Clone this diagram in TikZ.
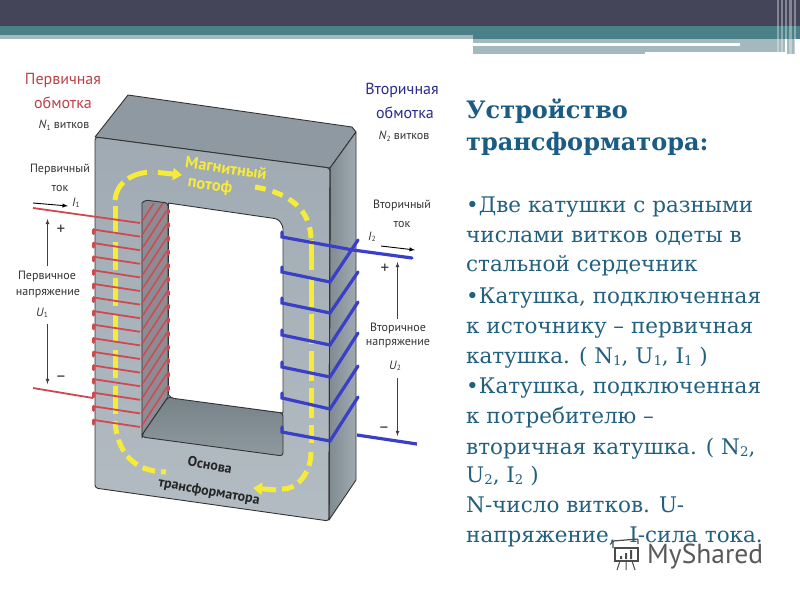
\documentclass[tikz,border=0pt]{standalone}
\usepackage{fontspec}
\usetikzlibrary{arrows.meta}
\setmainfont{DejaVu Serif}
\newfontfamily\lab{PT Sans}
\definecolor{txtblue}{HTML}{22607F}
\definecolor{headc}{HTML}{1A5C84}
\definecolor{redc}{HTML}{CF4A50}
\definecolor{bluec}{HTML}{3A3FC8}
\definecolor{yel}{HTML}{F7EB3A}
\definecolor{barD}{HTML}{45455A}
\definecolor{barT}{HTML}{4A8088}
\definecolor{barL}{HTML}{A3B9BD}
\definecolor{topF}{HTML}{8F99A1}
\definecolor{sideA}{HTML}{7F8A91}
\definecolor{sideB}{HTML}{A0AAB1}
\definecolor{frontA}{HTML}{A0AAB2}
\definecolor{frontB}{HTML}{B3BCC3}
\definecolor{innerL}{HTML}{8D8B93}
\definecolor{innerA}{HTML}{758288}
\definecolor{innerB}{HTML}{8F9AA0}
\tikzset{
 body/.style={anchor=base west,inner sep=0,text=txtblue,font=\fontsize{21.5}{23}\selectfont},
 head/.style={anchor=base west,inner sep=0,text=headc,font=\fontsize{24}{26}\selectfont\bfseries},
 lbl/.style={inner sep=0,text=black!80,font=\lab\fontsize{12}{14}\selectfont},
 redl/.style={inner sep=0,text=redc!90!black,font=\lab\fontsize{16}{18}\selectfont},
 bluel/.style={inner sep=0,text=bluec!70!black,font=\lab\fontsize{16}{18}\selectfont},
 yell/.style={inner sep=0,text=yel,font=\lab\bfseries\fontsize{16.5}{18}\selectfont},
 basel/.style={inner sep=0,text=black!85,font=\lab\bfseries\fontsize{14}{15}\selectfont},
 outline/.style={draw=black!80,line width=0.9pt,line join=round},
 redw/.style={draw=redc,line width=1.8pt},
 bluew/.style={draw=bluec,line width=3.2pt,line cap=round},
 ydash/.style={draw=yel,line width=5pt},
 varr/.style={draw=black!75,line width=0.8pt,-latex},
}
\newcommand{\sbs}[1]{\raisebox{-0.25ex}{\scalebox{0.62}{#1}}}
\begin{document}
\begin{tikzpicture}[x=1pt,y=-1pt]
\useasboundingbox (0,0) rectangle (800,600);
\fill[white] (0,0) rectangle (800,600);
% header
\fill[barD] (0,0) rectangle (800,26);
\fill[barT] (0,26) rectangle (800,35);
\fill[barT] (473,35) rectangle (800,39);
\fill[barL] (0,35) rectangle (473,39);
\fill[barL] (473,39) rectangle (785,52);
\fill[barL] (473,52) rectangle (645,54);
\fill[white] (473,43) rectangle (740,45.6);
\fill[barL] (787,39) rectangle (795,54);
\foreach \sx/\sw in {777/1.5,781/2,785/1.5,789/3,794/1.5}
  \fill[white,opacity=0.35] (\sx,0) rectangle ++(\sw,54);
% core
\path[outline,fill=topF] (95,137) -- (128,95) -- (352,127) -- (356,132) -- (330,168) -- cycle;
\path[outline,left color=sideA,right color=sideB] (330,168) -- (356,132) -- (356,480) -- (329,520) -- cycle;
\path[outline,top color=frontA,bottom color=frontB,rounded corners=3] (95,137) -- (330,168) -- (329,521) -- (95,488) -- cycle;
% window
\path[outline,fill=innerL] (142,203) [rounded corners=3] -- (145,200) -- (168,203) [sharp corners] -- (168,397) -- (142,435) -- cycle;
\path[outline,top color=innerA,bottom color=innerB,rounded corners=3] (142,435) -- (168,397) -- (283,413) -- (283,456) -- (142,437) -- cycle;
\fill[white,rounded corners=3] (168,203) -- (278,219) -- (283,226) -- (283,413) -- (171,398) -- (168,394) -- cycle;
\draw[outline,rounded corners=3] (168,203) -- (278,219) -- (283,226) -- (283,413);
\draw[outline] (168,203) -- (168,394);
\draw[outline,rounded corners=3] (168,394) -- (171,398) -- (283,413);
\draw[outline] (330,168) -- (329,520);
% yellow flux
\draw[draw=yel,line width=5pt,dash pattern=on 28pt off 8pt] (115,206) -- (115,421);
\draw[draw=yel,line width=5pt,dash pattern=on 20pt off 6pt] (115,200) .. controls (116,185) and (130,172) .. (153,172);
\draw[ydash,-{Triangle[length=9pt,width=12pt]}] (158,172.5) -- (182,175);
\draw[draw=yel,line width=5pt,dash pattern=on 11pt off 7pt] (255,187) .. controls (290,193) and (311,210) .. (311,240);
\draw[draw=yel,line width=5pt,dash pattern=on 30pt off 7pt] (311,240) -- (311,443);
\draw[draw=yel,line width=5pt,dash pattern=on 14pt off 6pt] (311,452) .. controls (311,475) and (295,490) .. (282,489);
\draw[ydash,-{Triangle[length=9pt,width=12pt]}] (276,490) -- (253,488);
\draw[draw=yel,line width=5pt,dash pattern=on 13pt off 6pt] (115,421) .. controls (117,450) and (132,472) .. (166,472);
% red coil
\begin{scope}
\clip (141,203) -- (169,203) -- (169,400) -- (141,435) -- cycle;
\foreach \k in {0,...,15}{
  \pgfmathsetmacro\yr{223+13.6*\k}
  \draw[redw,line width=1.5pt] (141,\yr) -- (167,\yr-40);
}
\end{scope}
\draw[redw] (33,208) -- (140,223);
\foreach \k in {1,...,15}{
  \pgfmathsetmacro\yr{223+13.6*\k}
  \pgfmathsetmacro\yl{\yr-7}
  \draw[redw] (94,\yl) -- (140,\yr);
  \draw[draw=redc,line width=3pt,line cap=round] (93,\yl) -- (93,\yl+4);
}
\foreach \k in {0,...,13}{
  \pgfmathsetmacro\yb{210+13.6*\k}
  \draw[draw=redc,line width=3pt,line cap=round] (168,\yb) -- (168,\yb+3);
}
\draw[redw] (33,388) -- (93,398);
% blue coil
\foreach \a/\c/\t in {272/282/240,303/313/272,335/345/302,367/377/333,398/409/366,432/441/397}{
  \draw[bluew] (282,\a-5) -- (282,\a) -- (330,\c) -- (358,\t);
}
\draw[bluew] (282,232) -- (282,237) -- (353,250) -- (412,258);
\draw[bluew,line cap=butt] (357,435) -- (417,444);
% labels left
\node[redl] (p1) at (63,80) {Первичная};
\node[redl] (p2) at (63,103) {обмотка};
\node[lbl] (p3) at (64,125) {\textit{N}\sbs{1} витков};
\node[lbl] (p4) at (60,169) {Первичный};
\node[lbl] (p5) at (60,188) {ток};
\node[lbl] (i1) at (76,203) {\textit{I}\sbs{1}};
\coordinate (i1a) at (33,203); \coordinate (i1b) at (68,206);
\draw[draw=black,line width=0.9pt,-latex] (i1a) -- (i1b);
\node[lbl,font=\lab\fontsize{17}{18}\selectfont] (plus1) at (61,230) {+};
\node[lbl] (p6) at (47,276) {Первичное};
\node[lbl] (p7) at (48,294) {напряжение};
\node[lbl] (u1) at (42,313) {\textit{U}\sbs{1}};
\node[lbl,font=\lab\fontsize{17}{18}\selectfont] (minus1) at (61,379) {–};
\draw[varr] (47.5,266) -- (47.5,219);
\draw[varr] (47.5,324) -- (47.5,384);
% labels right
\node[bluel] (s1) at (402,90) {Вторичная};
\node[bluel] (s2) at (405,113) {обмотка};
\node[lbl] (s3) at (404,136) {\textit{N}\sbs{2} витков};
\node[lbl] (s4) at (402,205) {Вторичный};
\node[lbl] (s5) at (402,224) {ток};
\node[lbl] (i2) at (372,237) {\textit{I}\sbs{2}};
\coordinate (i2a) at (381,246); \coordinate (i2b) at (415,250);
\draw[draw=black,line width=0.9pt,-latex] (i2a) -- (i2b);
\node[lbl,font=\lab\fontsize{17}{18}\selectfont] (plus2) at (385,269) {+};
\node[lbl] (s6) at (398,328) {Вторичное};
\node[lbl] (s7) at (398,344) {напряжение};
\node[lbl] (u2) at (395,366) {\textit{U}\sbs{2}};
\node[lbl,font=\lab\fontsize{17}{18}\selectfont] (minus2) at (384,430) {–};
\draw[varr] (397.5,319) -- (397.5,262);
\draw[varr] (397.5,378) -- (397.5,436);
% core labels
\node[yell,rotate=-8] (m1) at (226,168) {Магнитный};
\node[yell,rotate=-8] (m2) at (210,186) {потоф};
\node[basel,rotate=-10] (b1) at (210,465) {Основа};
\node[basel,rotate=-10] (b2) at (209,492) {трансформатора};
% text
\node[head] (h1) at (466,118) {Устройство};
\node[head] (h2) at (466,150) {трансформатора:};
\node[body] (t1) at (466,212) {•Две катушки с разными};
\node[body] (t2) at (466,242) {числами витков одеты в};
\node[body] (t3) at (466,271) {стальной сердечник};
\node[body] (t4) at (466,303) {•Катушка, подключенная};
\node[body] (t5) at (466,333) {к источнику – первичная};
\node[body] (t6) at (466,363) {катушка. ( N\sbs{1}, U\sbs{1}, I\sbs{1} )};
\node[body] (t7) at (466,393) {•Катушка, подключенная};
\node[body] (t8) at (466,423) {к потребителю –};
\node[body] (t9) at (466,454) {вторичная катушка. ( N\sbs{2},};
\node[body] (t10) at (466,482) {U\sbs{2}, I\sbs{2} )};
\node[body] (t11) at (466,512) {N-число витков. U-};
\node[body] (t12) at (466,542) {напряжение,\ \ I-сила тока.};
% watermark
\node[anchor=base west,inner sep=0,text=black!65,font=\lab\fontsize{27.5}{29}\selectfont] (ms) at (647,563) {MyShared};
\draw[black!70,line width=1.2pt,rounded corners=1] (613,548) -- (613,541) -- (638,539) -- (638,544);
\draw[black!70,line width=1.4pt] (615,548) rectangle (638,561);
\fill[black!70] (620,556) rectangle (622,559) (625,553) rectangle (627,559) (630,550) rectangle (632,559);
\draw[black!70,line width=1pt] (620,561) -- (617,570) (626,561) -- (626,570) (632,561) -- (635,570);
\end{tikzpicture}
\end{document}
